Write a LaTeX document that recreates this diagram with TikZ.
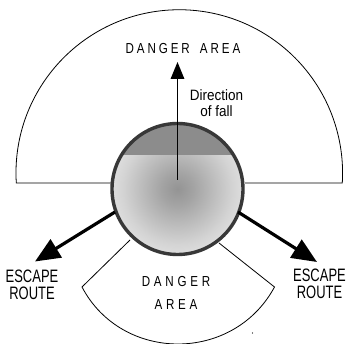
\documentclass[tikz,border=0pt]{standalone}
\usepackage{fontspec}
\setmainfont{Liberation Sans}
\newfontfamily\spacedfont[FakeStretch=0.8,LetterSpace=20]{Liberation Sans}
\newfontfamily\widefont[FakeStretch=0.8,LetterSpace=26]{Liberation Sans}
\newfontfamily\narrowfont[FakeStretch=0.9]{Liberation Sans}
\newfontfamily\routefont[FakeStretch=0.72]{Liberation Sans}
\usetikzlibrary{arrows.meta}
\pgfdeclareradialshading{trunkshade}{\pgfpoint{0bp}{0bp}}{color(0bp)=(black!42);color(6bp)=(black!36);color(21bp)=(black!17);color(35bp)=(black!4);color(50bp)=(black!4)}
\tikzset{
  zone/.style={draw=black,line width=0.8pt,line join=miter},
  lab/.style={inner sep=0pt,align=center,font=\narrowfont\fontsize{15}{16.5}\selectfont},
  danger/.style={inner sep=0pt,align=center,font=\spacedfont\fontsize{14.5}{21}\selectfont},
  lowdanger/.style={inner sep=0pt,align=center,font=\widefont\fontsize{14.5}{22.5}\selectfont},
  route/.style={inner sep=0pt,align=center,font=\routefont\fontsize{18}{17}\selectfont},
  fallarrow/.style={line width=1.6pt,-{Triangle[length=17pt,width=13.5pt]}},
  escapearrow/.style={line width=3.2pt,-{Triangle[length=25pt,width=21pt]}},
}
\begin{document}
\begin{tikzpicture}[x=1pt,y=-1pt]
\useasboundingbox (0,0) rectangle (346,344);
\fill[white] (0,0) rectangle (346,344);
% big danger sector
\draw[zone] (112,183) -- (16.3,183) arc[start angle=176.5,end angle=363.5,radius=163.3] -- (245,183);
% lower danger sector
\draw[zone] (130,240) -- (82,287) .. controls (102,325) and (140,344) .. (178,344) .. controls (216,344) and (254,325) .. (274.5,287) -- (219,243);
% trunk
\coordinate (c) at (177.5,189);
\path[shading=trunkshade] (c) circle[radius=65.5];
\begin{scope}
\clip (c) circle[radius=65.5];
\fill[black!45] (100,100) rectangle (260,155);
\end{scope}
\draw[line width=3.4pt,black!78] (c) circle[radius=65.5];
% labels
\node[danger] (top) at (183,48.5) {DANGER\hspace{4pt} AREA};
\node[lab] (dir) at (216.5,103) {Direction\\of fall};
\node[lowdanger] (low) at (176,293) {DANGER\\AREA};
\node[route] (el) at (32,284.5) {ESCAPE\\ROUTE};
\node[route] (er) at (319.5,283.5) {ESCAPE\\ROUTE};
% arrows
\coordinate (fallstart) at (177.5,180);
\coordinate (falltip) at (177.5,62);
\coordinate (ls) at (115,212);
\coordinate (lt) at (35,261.5);
\coordinate (rs) at (238,212);
\coordinate (rt) at (317,262);
\draw[fallarrow] (fallstart) -- (falltip);
\draw[escapearrow] (ls) -- (lt);
\draw[escapearrow] (rs) -- (rt);
\coordinate (speck) at (252.5,333);
\fill[black] (speck) circle[radius=0.6];
\end{tikzpicture}
\end{document}
